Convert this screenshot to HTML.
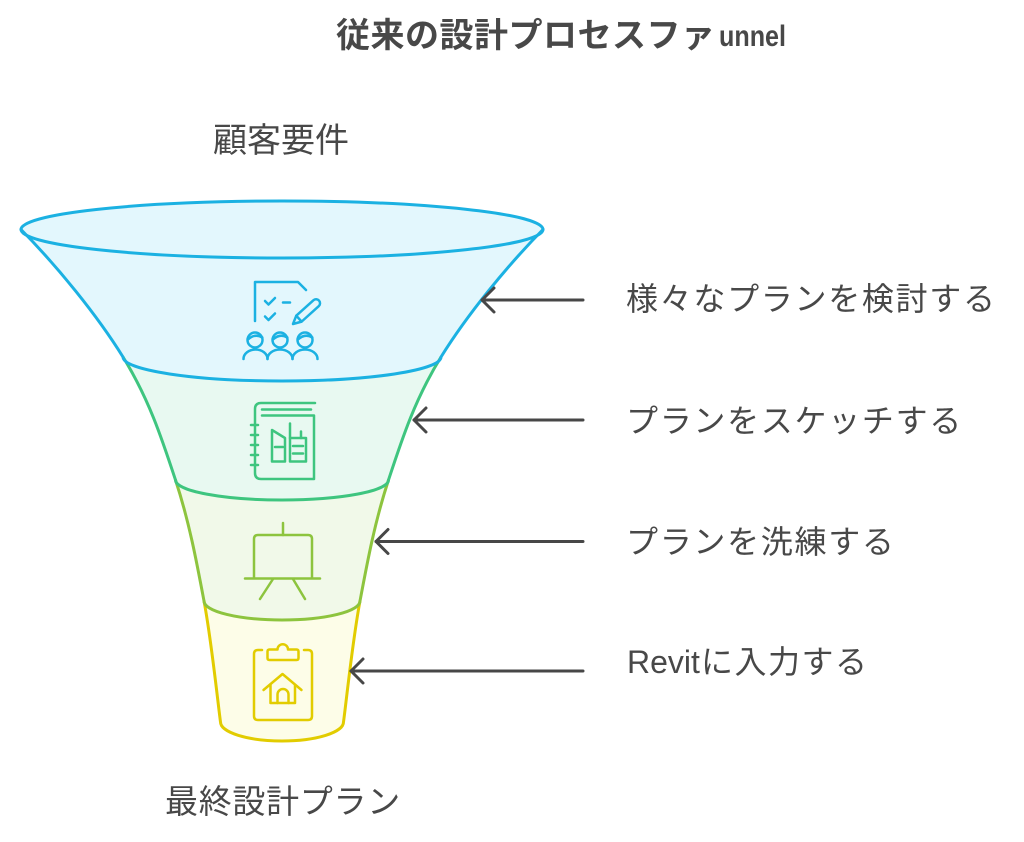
<!DOCTYPE html>
<html>
<head>
<meta charset="utf-8">
<style>
  html,body{margin:0;padding:0;background:#ffffff;}
  body{width:1024px;height:842px;overflow:hidden;}
  svg{display:block;}
  .t{font-family:"Liberation Sans","Noto Sans CJK JP",sans-serif;fill:#484848;}
</style>
</head>
<body>
<svg width="1024" height="842" viewBox="0 0 1024 842" xmlns="http://www.w3.org/2000/svg">
  <!-- Title -->
  <text class="t" font-size="34" font-weight="bold" y="47" x="336 370.5 405 439.5 474 508.5 543 577.5 612 646.5 681">従来の設計プロセスファ</text>
  <text class="t" font-size="30" font-weight="bold" y="46" x="719" textLength="67" lengthAdjust="spacingAndGlyphs">unnel</text>

  <!-- Top label -->
  <text class="t" font-size="34" y="152" x="213 247 281 315">顧客要件</text>

  <!-- Section fills -->
  <path d="M21,229.5 C57,266 97,315 123,357 A159,24 0 0 0 441,357 C467,315 507,266 543,229.5 A261,28.5 0 0 0 21,229.5 Z" fill="#e3f7fd"/>
  <path d="M123,357 C149,399 162,439 175.5,480 A106.5,20 0 0 0 388.5,480 C402,439 415,399 441,357 A159,24 0 0 1 123,357 Z" fill="#e8f9f1"/>
  <path d="M175.5,480 C189,521 196.5,561 204,601 A78,19 0 0 0 360,601 C367.5,561 375,521 388.5,480 A106.5,20 0 0 1 175.5,480 Z" fill="#f1f9e9"/>
  <path d="M204,601 C211.5,641 217.75,702 220.5,722 A61.5,19 0 0 0 343.5,722 C346.25,702 352.5,641 360,601 A78,19 0 0 1 204,601 Z" fill="#fdfde8"/>

  <!-- Strokes: yellow -->
  <g fill="none" stroke="#e2cc00" stroke-width="3" stroke-linecap="round" stroke-linejoin="round">
    <path d="M204,601 C211.5,641 217.75,702 220.5,722 A61.5,19 0 0 0 343.5,722 C346.25,702 352.5,641 360,601"/>
  </g>
  <!-- lime -->
  <g fill="none" stroke="#8dc43e" stroke-width="3" stroke-linecap="round" stroke-linejoin="round">
    <path d="M175.5,480 C189,521 196.5,561 204,601 A78,19 0 0 0 360,601 C367.5,561 375,521 388.5,480"/>
  </g>
  <!-- green -->
  <g fill="none" stroke="#3ec57f" stroke-width="3" stroke-linecap="round" stroke-linejoin="round">
    <path d="M123,357 C149,399 162,439 175.5,480 A106.5,20 0 0 0 388.5,480 C402,439 415,399 441,357"/>
  </g>
  <!-- blue -->
  <g fill="none" stroke="#1bb1e2" stroke-width="3" stroke-linecap="round" stroke-linejoin="round">
    <path d="M21,229.5 C57,266 97,315 123,357 A159,24 0 0 0 441,357 C467,315 507,266 543,229.5"/>
    <ellipse cx="282" cy="229.5" rx="261" ry="28.5"/>
  </g>

  <!-- Icon 1: checklist + pencil + people (blue) -->
  <g fill="none" stroke="#1bb1e2" stroke-width="2.5" stroke-linecap="round" stroke-linejoin="round">
    <path d="M255,321 V282 H298 L306,290"/>
    <path d="M265,301 L268.5,304.5 L275,298"/>
    <path d="M283,302.5 H290"/>
    <path d="M265,316.5 L268.5,320 L275,313.5"/>
    <g transform="translate(293,324) rotate(-42)">
      <path d="M0,0 L8,-4 H31 A4,4 0 0 1 31,4 H8 Z"/>
      <path d="M8,-4 V4"/>
    </g>
    <circle cx="255" cy="340" r="7.5"/>
    <circle cx="280" cy="340" r="7.5"/>
    <circle cx="305" cy="340" r="7.5"/>
    <path d="M248,339.5 Q255,333 262.3,337.5"/>
    <path d="M273,339.5 Q280,333 287.3,337.5"/>
    <path d="M298,339.5 Q305,333 312.3,337.5"/>
    <path d="M243.5,359 A12,9.5 0 0 1 267.5,359"/>
    <path d="M267.5,359 A12.5,9.5 0 0 1 292.5,359"/>
    <path d="M292.5,359 A12.5,9.5 0 0 1 317.5,359"/>
  </g>

  <!-- Icon 2: sketchbook (green) -->
  <g fill="none" stroke="#3ec57f" stroke-width="2.5" stroke-linecap="round" stroke-linejoin="round">
    <path d="M315,403 H261 Q255,403 255,409 V473 Q255,479 261,479 H314 V415.5 H262"/>
    <path d="M262,409.5 H311"/>
    <path d="M251,425 H258 M251,435 H258 M251,445 H258 M251,455 H258 M251,465 H258"/>
    <path d="M272,461.5 V430 L285,438 V461.5 Z"/>
    <path d="M275,447 H283"/>
    <path d="M290,423.5 V461.5 H306 V438 H301 V431.5"/>
    <path d="M290,438 H301"/>
    <path d="M293,446 H303 M293,453.5 H303"/>
  </g>

  <!-- Icon 3: easel (lime) -->
  <g fill="none" stroke="#8dc43e" stroke-width="2.5" stroke-linecap="round" stroke-linejoin="round">
    <path d="M283,523 V535"/>
    <path d="M254,578 V539 Q254,535 258,535 H308 Q312,535 312,539 V578"/>
    <path d="M245,578.5 H320"/>
    <path d="M273,579 L260,599"/>
    <path d="M293,579 L305,599"/>
  </g>

  <!-- Icon 4: clipboard house (yellow) -->
  <g fill="none" stroke="#e2cc00" stroke-width="2.5" stroke-linecap="round" stroke-linejoin="round">
    <path d="M262,650 H258 Q254,650 254,654 V716 Q254,720 258,720 H308 Q312,720 312,716 V654 Q312,650 308,650 H304"/>
    <path d="M277.5,649.5 H269.5 Q267.5,649.5 267.5,651.5 V658 Q267.5,660 269.5,660 H296.5 Q298.5,660 298.5,658 V651.5 Q298.5,649.5 296.5,649.5 H288 A5.2,5.2 0 0 0 277.5,649.5 Z"/>
    <path d="M263.5,690 L282.5,674 L301.5,690"/>
    <path d="M270.5,685 V703 H295 V685"/>
    <path d="M277.5,703 V694.5 A5.5,5.5 0 0 1 288.5,694.5 V703"/>
  </g>

  <!-- Arrows -->
  <g fill="none" stroke="#474747" stroke-width="3" stroke-linecap="round" stroke-linejoin="round">
    <path d="M583,300 H482"/>
    <path d="M494,288 L482,300 L494,312"/>
    <path d="M583,420 H414"/>
    <path d="M426,408 L414,420 L426,432"/>
    <path d="M583,541.5 H376"/>
    <path d="M388,529.5 L376,541.5 L388,553.5"/>
    <path d="M583,671 H351"/>
    <path d="M363,659 L351,671 L363,683"/>
  </g>

  <!-- Side labels -->
  <text class="t" font-size="32" y="310" x="626 659.7 693.4 727.1 760.8 794.5 828.2 861.9 895.6 929.3 963">様々なプランを検討する</text>
  <text class="t" font-size="32" y="432" x="626 659.7 693.4 727.1 760.8 794.5 828.2 861.9 895.6 929.3">プランをスケッチする</text>
  <text class="t" font-size="32" y="553" x="626 659.7 693.4 727.1 760.8 794.5 828.2 861.9">プランを洗練する</text>
  <text class="t" font-size="32" y="673" x="627">Revit</text>
  <text class="t" font-size="32" y="673" x="701 734.5 768 801.5 835">に入力する</text>

  <!-- Bottom label -->
  <text class="t" font-size="33" y="813" x="165 198.7 232.4 266.1 299.8 333.5 367.2">最終設計プラン</text>
</svg>
</body>
</html>
